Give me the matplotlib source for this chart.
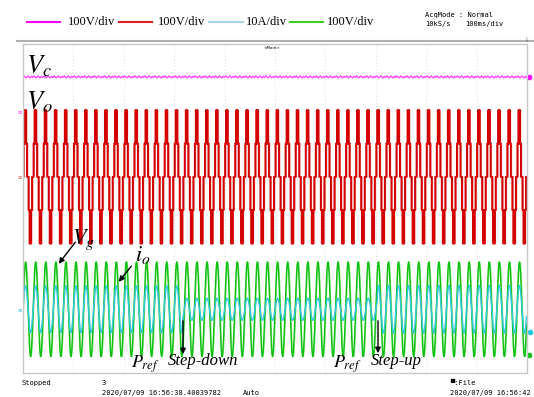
import matplotlib
matplotlib.use("Agg")
import matplotlib.pyplot as plt
from matplotlib.lines import Line2D
import numpy as np

plt.rcParams['mathtext.fontset'] = 'stix'

# --- scope settings / values ---
f_grid = 50.0            # Hz, 10 px per cycle at 100 ms/div
t_end = 1.0              # 10 div * 100 ms
n_div_y = 8

legend_colors = ["#ff00ff", "#e02020", "#a8d4f0", "#40cc20"]
legend_labels = ["100V/div", "100V/div", "10A/div", "100V/div"]

# one cycle (20 ms, 1 ms per sample) of a unit sine, peak near 5-6 ms
sine_cycle = [0.0, 0.309, 0.588, 0.809, 0.951, 1.0, 0.951, 0.809, 0.588, 0.309,
              0.0, -0.309, -0.588, -0.809, -0.951, -1.0, -0.951, -0.809, -0.588, -0.309]

# Vo: five level staircase (units of one cell voltage) over one cycle
vo_cycle = [0, 1, 1, 2, 1, 2, 1, 1, 0, 0, 0, -1, -1, -2, -1, -2, -1, -1, 0, 0]
vo_cell = 81.0           # V per level

# Vc: dc level with small ripple
vc_dc = 85.0
vc_ripple = [0, 1.5, 2.5, 1.5, 0, -1.5, -2.5, -1.5, 0, 1.5,
             2.5, 1.5, 0, -1.5, -2.5, -1.5, 0, 1.5, 0, -1.5]

# grid voltage and output current peaks
vg_peak = 115.0
io_step_times = [0.0, 0.317, 0.704, 1.0]
io_peaks = [5.7, 2.7, 5.8]

# channel ground positions (div from bottom) and scales (unit per div)
pos_vc, scale_vc = 6.35, 100.0
pos_vo, scale_vo = 4.77, 100.0
pos_vg, scale_vg = 1.55, 100.0
pos_io, scale_io = 1.55, 10.0

n_cyc = int(round(t_end * f_grid))
n_s = len(sine_cycle)
t = np.arange(n_cyc * n_s) / (n_s * f_grid)

sine = np.tile(sine_cycle, n_cyc)
vc = vc_dc + np.tile(vc_ripple, n_cyc)
vo = vo_cell * np.tile(vo_cycle, n_cyc)
vg = vg_peak * sine
io_amp = np.zeros_like(t)
for i, a in enumerate(io_peaks):
    io_amp[(t >= io_step_times[i]) & (t < io_step_times[i + 1])] = a
io = io_amp * sine

W, H = 534, 397
fig = plt.figure(figsize=(W / 100, H / 100), dpi=100)
ax = fig.add_axes([23 / W, 1 - 373 / H, 504 / W, 329 / H])


def fx(x):
    return x / W


def fy(y):
    return 1 - y / H


ax.set_xlim(0, t_end)
ax.set_ylim(0, n_div_y)
ax.set_xticks([])
ax.set_yticks([])
for s in ax.spines.values():
    s.set_color("#c8c8c8")
    s.set_linewidth(1.0)
for k in range(1, 10):
    ax.axvline(k * 0.1, color="#d0d0d0", lw=0.6, ls=(0, (1, 3)), zorder=0)

# traces
ax.plot(t, pos_vc + vc / scale_vc, color="#ff40ff", lw=0.9)
ax.plot(t + 0.001, pos_vo + vo / scale_vo, color="#ec9090", lw=1.2, drawstyle="steps-post")
ax.plot(t, pos_vo + vo / scale_vo, color="#d40000", lw=1.4, drawstyle="steps-post")
ax.plot(t + 0.001, pos_vg + vg / scale_vg, color="#90e890", lw=1.0)
ax.plot(t, pos_vg + vg / scale_vg, color="#10c010", lw=1.0)
ax.plot(t, pos_io + io / scale_io, color="#30c8dc", lw=1.0)

# channel markers at the right edge
ax.plot([1.004], [pos_vc + vc_dc / scale_vc], "o", color="#ff00ff", ms=3, clip_on=False)
ax.plot([1.006], [(373 - 332) / 41.125], "o", color="#20c8e0", ms=3, clip_on=False)
ax.plot([1.004], [(373 - 355) / 41.125], "o", color="#10c010", ms=3, clip_on=False)
# ground markers at the left edge
fig.text(fx(20), fy(112), "≡", color="#ff40ff", fontsize=4, ha="center", va="center")
fig.text(fx(20), fy(177), "≡", color="#e06060", fontsize=4, ha="center", va="center")
fig.text(fx(20), fy(310), "≡", color="#40c8e0", fontsize=4, ha="center", va="center")

# header line
fig.add_artist(Line2D([fx(17), fx(534)], [fy(41), fy(41)], color="#b0b0b0", lw=1.5))
fig.text(fx(527), fy(40), "↓", fontsize=5, color="#808080", ha="center", va="center")
fig.text(fx(272), fy(48), "<Main>", fontsize=3, ha="center", va="center")

# legend row
line_x = [(27, 60), (119, 152), (209, 243), (290, 323)]
text_x = [68, 158, 246, 327]
for (x0, x1), tx, c, lab in zip(line_x, text_x, legend_colors, legend_labels):
    fig.add_artist(Line2D([fx(x0), fx(x1)], [fy(22), fy(22)], color=c, lw=1.5))
    fig.text(fx(tx), fy(22), lab, fontsize=9, family="Liberation Serif", va="center")

mono = "DejaVu Sans Mono"
fig.text(fx(425), fy(15), "AcqMode : Normal", fontsize=5, family=mono, va="center")
fig.text(fx(425), fy(24), "10kS/s", fontsize=5, family=mono, va="center")
fig.text(fx(465), fy(24), "100ms/div", fontsize=5, family=mono, va="center")

# footer
fig.text(fx(22), fy(383), "Stopped", fontsize=5, family=mono, va="center")
fig.text(fx(102), fy(383), "3", fontsize=5, family=mono, va="center")
fig.text(fx(102), fy(393), "2020/07/09 16:56:38.40039782", fontsize=5, family=mono, va="center")
fig.text(fx(243), fy(393), "Auto", fontsize=5, family=mono, va="center")
fig.text(fx(450), fy(383), "▀:File", fontsize=5, family=mono, va="center")
fig.text(fx(450), fy(393), "2020/07/09 16:56:42", fontsize=5, family=mono, va="center")

# annotations
fig.text(fx(26), fy(66), "$V_c$", fontsize=19, va="center")
fig.text(fx(26), fy(102), "$V_o$", fontsize=19, va="center")
fig.text(fx(72), fy(240), "$V_g$", fontsize=16, va="center")
fig.text(fx(135), fy(255), "$i_o$", fontsize=16, va="center")
fig.text(fx(131), fy(364), "$P_{ref}$", fontsize=13, va="center")
fig.text(fx(168), fy(361), "Step-down", fontsize=12, style="italic",
         family="Liberation Serif", va="center")
fig.text(fx(333), fy(364), "$P_{ref}$", fontsize=13, va="center")
fig.text(fx(371), fy(361), "Step-up", fontsize=12, style="italic",
         family="Liberation Serif", va="center")

arrows = [((77, 240), (57, 266)), ((133, 264), (117, 284)),
          ((183, 318), (183, 357)), ((378, 318), (378, 356))]
for (x0, y0), (x1, y1) in arrows:
    ax.annotate("", xy=(fx(x1), fy(y1)), xytext=(fx(x0), fy(y0)),
                xycoords="figure fraction", textcoords="figure fraction",
                arrowprops=dict(arrowstyle="-|>", color="black", lw=1.0, mutation_scale=8))

fig.savefig("out.png", dpi=100)
